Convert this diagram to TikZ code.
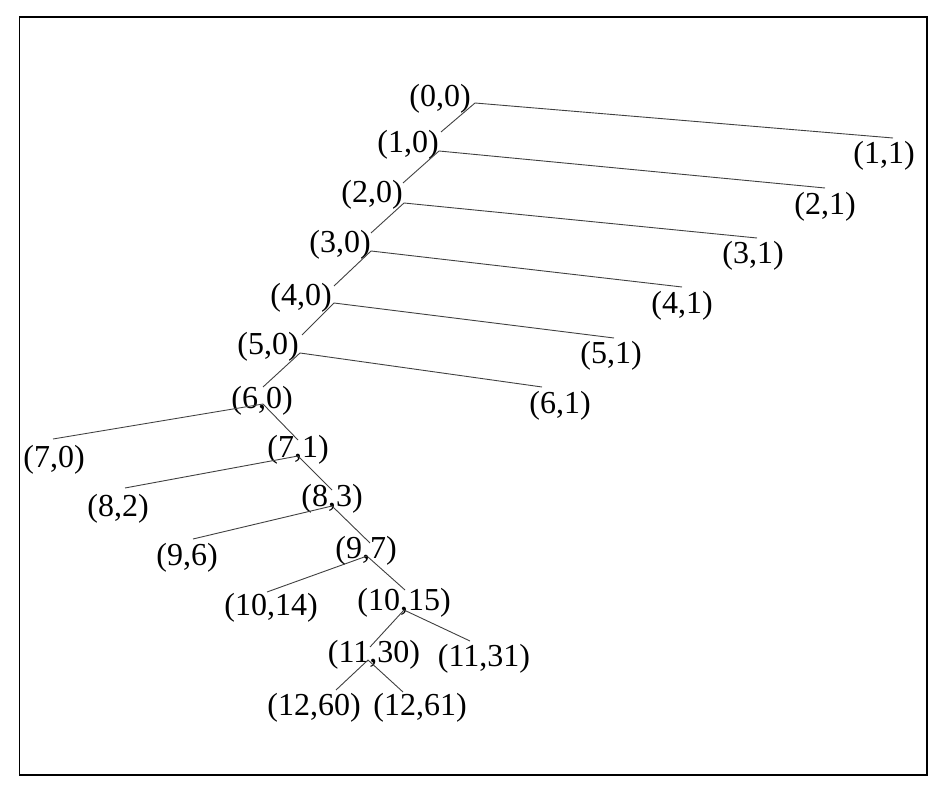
\documentclass[tikz,border=0pt]{standalone}
\usepackage{fontspec}
\setmainfont{Liberation Serif}
\usepackage{tikz}

\begin{document}
\begin{tikzpicture}[x=1pt,y=-1pt,
  lbl/.style={inner sep=0pt, font=\fontsize{32}{36}\selectfont},
  edge/.style={draw=black!75, line width=0.9pt}]

\useasboundingbox (0,0) rectangle (945,791);
\draw [line width=1.3pt] (19.5,17) rectangle (927,775);

\node [lbl] (n00) at (440,99) {(0,0)};
\node [lbl] (n10) at (408,145) {(1,0)};
\node [lbl] (n11) at (884,156) {(1,1)};
\node [lbl] (n20) at (372,195) {(2,0)};
\node [lbl] (n21) at (825,207) {(2,1)};
\node [lbl] (n30) at (340,245) {(3,0)};
\node [lbl] (n31) at (753,256) {(3,1)};
\node [lbl] (n40) at (301,298) {(4,0)};
\node [lbl] (n41) at (682,306) {(4,1)};
\node [lbl] (n50) at (268,347) {(5,0)};
\node [lbl] (n51) at (611,356) {(5,1)};
\node [lbl] (n60) at (262,401) {(6,0)};
\node [lbl] (n61) at (560,406) {(6,1)};
\node [lbl] (n70) at (54,460) {(7,0)};
\node [lbl] (n71) at (298,450) {(7,1)};
\node [lbl] (n82) at (118,509) {(8,2)};
\node [lbl] (n83) at (332,499) {(8,3)};
\node [lbl] (n96) at (187,558) {(9,6)};
\node [lbl] (n97) at (366,551) {(9,7)};
\node [lbl] (n1014) at (271,608) {(10,14)};
\node [lbl] (n1015) at (404,603) {(10,15)};
\node [lbl] (n1130) at (374,655) {(11,30)};
\node [lbl] (n1131) at (484,659) {(11,31)};
\node [lbl] (n1260) at (314,708) {(12,60)};
\node [lbl] (n1261) at (420,708) {(12,61)};

\draw [edge] ([shift={(35,4)}]n00.center) -- ([shift={(33,-13)}]n10.center);
\draw [edge] ([shift={(35,4)}]n00.center) -- ([shift={(9,-18)}]n11.center);
\draw [edge] ([shift={(31,6)}]n10.center) -- ([shift={(31,-12)}]n20.center);
\draw [edge] ([shift={(31,6)}]n10.center) -- ([shift={(0,-19)}]n21.center);
\draw [edge] ([shift={(32,8)}]n20.center) -- ([shift={(31,-12)}]n30.center);
\draw [edge] ([shift={(32,8)}]n20.center) -- ([shift={(4,-18)}]n31.center);
\draw [edge] ([shift={(31,6)}]n30.center) -- ([shift={(33,-12)}]n40.center);
\draw [edge] ([shift={(31,6)}]n30.center) -- ([shift={(0,-19)}]n41.center);
\draw [edge] ([shift={(33,5)}]n40.center) -- ([shift={(34,-12)}]n50.center);
\draw [edge] ([shift={(33,5)}]n40.center) -- ([shift={(3,-18)}]n51.center);
\draw [edge] ([shift={(32,6)}]n50.center) -- ([shift={(1,-14)}]n60.center);
\draw [edge] ([shift={(32,6)}]n50.center) -- ([shift={(-18,-19)}]n61.center);
\draw [edge] ([shift={(1,3)}]n60.center) -- ([shift={(-1,-21)}]n70.center);
\draw [edge] ([shift={(1,3)}]n60.center) -- ([shift={(0,-10)}]n71.center);
\draw [edge] ([shift={(0,6)}]n71.center) -- ([shift={(7,-21)}]n82.center);
\draw [edge] ([shift={(0,6)}]n71.center) -- ([shift={(0,-9)}]n83.center);
\draw [edge] ([shift={(0,7)}]n83.center) -- ([shift={(6,-19)}]n96.center);
\draw [edge] ([shift={(0,7)}]n83.center) -- ([shift={(4,-8)}]n97.center);
\draw [edge] ([shift={(1,5)}]n97.center) -- ([shift={(-4,-16)}]n1014.center);
\draw [edge] ([shift={(2,6)}]n97.center) -- ([shift={(1,-13)}]n1015.center);
\draw [edge] ([shift={(0,7)}]n1015.center) -- ([shift={(-4,-8)}]n1130.center);
\draw [edge] ([shift={(0,7)}]n1015.center) -- ([shift={(-14,-18)}]n1131.center);
\draw [edge] ([shift={(-6,5)}]n1130.center) -- ([shift={(22,-18)}]n1260.center);
\draw [edge] ([shift={(-6,5)}]n1130.center) -- ([shift={(-17,-16)}]n1261.center);

\end{tikzpicture}
\end{document}
